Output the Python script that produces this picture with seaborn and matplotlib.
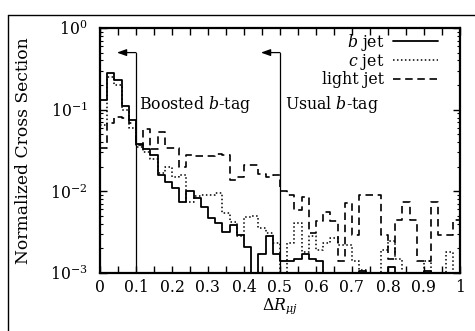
import numpy as np
import pandas as pd
import matplotlib
matplotlib.use("Agg")
import matplotlib.pyplot as plt
import seaborn as sns
from matplotlib.ticker import LogLocator, MultipleLocator, FixedLocator, NullFormatter

# ---------------- data ----------------
bin_edges = np.linspace(0.0, 1.0, 51)   # 50 bins of width 0.02

b_jet = [0.13, 0.28, 0.23, 0.11, 0.075, 0.038, 0.033, 0.028, 0.016, 0.013,
         0.011, 0.0075, 0.010, 0.0082, 0.0065, 0.0047, 0.0041, 0.0032, 0.0039, 0.0029,
         0.0021, 0.0, 0.0017, 0.0028, 0.0017, 0.0014, 0.0014, 0.0015, 0.0017, 0.0015,
         0.0014, 0.0, 0.0, 0.0, 0.0, 0.0, 0.00105, 0.0, 0.0, 0.0,
         0.0012, 0.0, 0.0, 0.0, 0.0, 0.00105, 0.0, 0.0, 0.0, 0.0]

c_jet = [0.065, 0.25, 0.20, 0.10, 0.06, 0.035, 0.030, 0.025, 0.017, 0.020,
         0.015, 0.016, 0.0075, 0.0088, 0.0090, 0.0091, 0.0095, 0.0055, 0.0042, 0.0028,
         0.0049, 0.0050, 0.0036, 0.0031, 0.0023, 0.0, 0.0023, 0.0041, 0.0018, 0.0028,
         0.0019, 0.0023, 0.0027, 0.0022, 0.0022, 0.0014, 0.0011, 0.0, 0.0, 0.0019,
         0.0025, 0.0015, 0.0, 0.0, 0.0, 0.0014, 0.0, 0.0, 0.0018, 0.0]

light_jet = [0.034, 0.068, 0.082, 0.078, 0.068, 0.037, 0.058, 0.033, 0.054, 0.034,
             0.034, 0.020, 0.028, 0.027, 0.027, 0.027, 0.029, 0.028, 0.0138, 0.015,
             0.021, 0.021, 0.0165, 0.015, 0.016, 0.010, 0.0091, 0.0059, 0.0086, 0.0031,
             0.0043, 0.0056, 0.0043, 0.0014, 0.0071, 0.0029, 0.009, 0.009, 0.009, 0.0029,
             0.0015, 0.0045, 0.0075, 0.0045, 0.0014, 0.0014, 0.0075, 0.0029, 0.0029, 0.0045]

series_labels = ["$b$ jet", "$c$ jet", "light jet"]
x_ticks = [0, 0.1, 0.2, 0.3, 0.4, 0.5, 0.6, 0.7, 0.8, 0.9, 1.0]
x_tick_labels = ["0", "0.1", "0.2", "0.3", "0.4", "0.5", "0.6", "0.7", "0.8", "0.9", "1"]
cut_boosted = 0.1
cut_usual = 0.5
arrow_level = 0.5
arrow_length = 0.053
text_level = 0.115

# ---------------- style ----------------
sns.set_theme(style="ticks")
FS = 11.3
plt.rcParams.update({
    "font.family": ["DejaVu Serif"],
    "mathtext.fontset": "dejavuserif",
    "font.size": FS,
    "axes.linewidth": 1.6,
    "xtick.direction": "in", "ytick.direction": "in",
    "xtick.top": True, "ytick.right": True,
    "xtick.color": "black", "ytick.color": "black",
    "axes.edgecolor": "black", "text.color": "black",
    "axes.labelcolor": "black",
})

fig = plt.figure(figsize=(4.75, 3.31), dpi=100)
ax = fig.add_axes([100/475, 1 - 273/331, 360/475, 245/331])

rows = []
for name, vals in zip(series_labels, [b_jet, c_jet, light_jet]):
    ext = list(vals) + [vals[-1]]
    for xe, v in zip(bin_edges, ext):
        rows.append({"x": xe, "y": v, "jet": name})
df = pd.DataFrame(rows)

styles = {
    "$b$ jet": dict(linestyle="-", linewidth=1.3),
    "$c$ jet": dict(linestyle=(0, (1, 1.6)), linewidth=1.1),
    "light jet": dict(linestyle=(0, (4.5, 2.8)), linewidth=1.2),
}
for name in series_labels:
    sub = df[df["jet"] == name]
    sns.lineplot(data=sub, x="x", y="y", ax=ax, drawstyle="steps-post",
                 estimator=None, sort=False, color="black", label=name,
                 **styles[name])

ax.set_yscale("log")
ax.set_ylim(1e-3, 1.0)
ax.set_xlim(0, 1)

# cut markers with arrows
for cut in (cut_boosted, cut_usual):
    ax.plot([cut, cut], [1e-3, arrow_level], color="black", lw=0.9)
    ax.annotate("", xy=(cut - arrow_length, arrow_level), xytext=(cut, arrow_level),
                arrowprops=dict(arrowstyle="-|>,head_length=0.5,head_width=0.18",
                                color="black", lw=0.9, shrinkA=0, shrinkB=0))
ax.text(cut_boosted + 0.007, text_level, "Boosted $b$-tag", ha="left", va="center", fontsize=FS)
ax.text(cut_usual + 0.015, text_level, "Usual $b$-tag", ha="left", va="center", fontsize=FS)

# ticks
ax.xaxis.set_major_locator(FixedLocator(x_ticks))
ax.set_xticklabels(x_tick_labels)
ax.xaxis.set_minor_locator(MultipleLocator(0.05))
ax.yaxis.set_major_locator(LogLocator(base=10, numticks=10))
ax.yaxis.set_minor_locator(LogLocator(base=10, subs=np.arange(2, 10), numticks=10))
ax.yaxis.set_minor_formatter(NullFormatter())
ax.tick_params(axis="both", which="major", length=5, width=1.0, labelsize=FS)
ax.tick_params(axis="y", which="minor", length=2.5, width=0.8)
ax.tick_params(axis="x", which="minor", length=5, width=1.0)
ax.tick_params(axis="x", pad=4.5)
ax.tick_params(axis="y", pad=9)

ax.set_xlabel(r"$\Delta R_{\mu j}$", fontsize=FS, labelpad=0)
ax.set_ylabel("Normalized Cross Section", fontsize=12.3)
ax.yaxis.set_label_coords(-0.19, 0.5)

leg = ax.legend(loc="upper right", bbox_to_anchor=(0.94, 0.985), frameon=False,
                markerfirst=False, handlelength=2.9, handletextpad=0.55,
                labelspacing=-0.05, borderaxespad=0.0, borderpad=0.0, fontsize=FS)

# outer frame fragments from the page
fig.add_artist(plt.Line2D([8/475, 8/475], [0, 1 - 15/331], color="black", lw=1.0))
fig.add_artist(plt.Line2D([8/475, 1], [1 - 15/331, 1 - 15/331], color="black", lw=1.0))

fig.savefig("out.png", dpi=100)
